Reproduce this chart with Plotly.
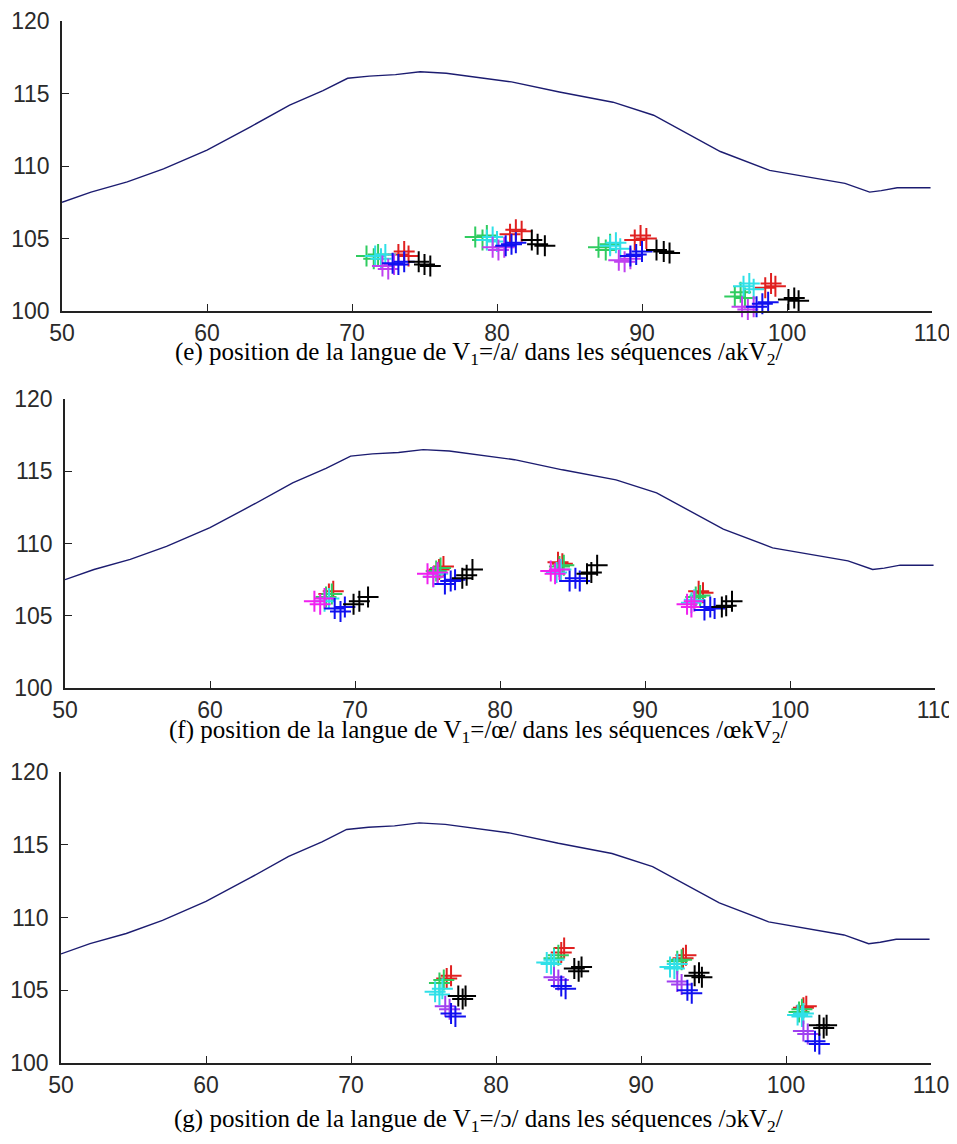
import plotly.graph_objects as go

# ---------------- data ----------------
# palate contour (same in the three panels)
CURVE_X = [50, 52, 54.5, 57, 60, 63, 65.7, 68, 69.7, 71.2, 73, 74.7, 76.5, 78.8, 81, 84.3,
           88, 90.8, 93, 95.4, 98.8, 101.8, 104, 105.7, 106.5, 107.6, 109.9]
CURVE_Y = [107.5, 108.2, 108.9, 109.8, 111.1, 112.7, 114.2, 115.2, 116.05, 116.2, 116.3, 116.5,
           116.4, 116.1, 115.8, 115.1, 114.4, 113.5, 112.3, 111.0, 109.7, 109.2, 108.8, 108.2,
           108.3, 108.5, 108.5]

X_TICKS = [50, 60, 70, 80, 90, 100, 110]
Y_TICKS = [100, 105, 110, 115, 120]

# (e) V1 = /a/
E_RED = [(73.2, 103.9), (73.6, 104.1), (73.9, 103.8), (80.9, 105.3), (81.3, 105.6), (81.7, 105.5),
         (89.5, 104.9), (89.9, 105.2), (90.3, 105.0), (98.5, 101.6), (98.9, 101.9), (99.2, 101.7)]
E_GREEN = [(71.0, 103.8), (71.5, 103.6), (71.8, 103.9), (78.5, 105.1), (79.0, 104.9), (79.3, 105.2),
           (87.0, 104.4), (87.5, 104.2), (87.8, 104.6), (96.4, 101.0), (96.8, 101.3), (97.1, 100.9)]
E_CYAN = [(71.6, 103.8), (72.0, 103.6), (72.3, 103.9), (79.3, 104.9), (79.7, 105.1), (80.0, 104.8),
          (87.8, 104.5), (88.2, 104.7), (88.5, 104.3), (97.0, 101.7), (97.4, 101.9), (97.7, 101.5)]
E_MAGENTA = [(72.1, 103.1), (72.5, 102.9), (72.9, 103.2), (79.7, 104.4), (80.1, 104.2), (80.5, 104.4),
             (88.4, 103.5), (88.8, 103.4), (89.2, 103.6), (96.9, 100.3), (97.3, 100.1), (97.7, 100.3)]
E_BLUE = [(72.8, 103.3), (73.2, 103.2), (73.6, 103.4), (80.6, 104.5), (81.0, 104.6), (81.3, 104.7),
          (89.2, 103.8), (89.6, 103.9), (90.0, 104.1), (97.9, 100.3), (98.3, 100.5), (98.7, 100.6)]
E_BLACK = [(74.6, 103.4), (75.0, 103.2), (75.4, 103.1), (82.4, 104.9), (82.8, 104.6), (83.3, 104.5),
           (91.0, 104.2), (91.5, 104.1), (91.9, 104.0), (100.1, 100.8), (100.5, 100.9), (100.8, 100.7)]

# (f) V1 = /œ/
F_RED = [(68.2, 106.5), (68.5, 106.7), (75.8, 108.2), (76.1, 108.4), (84.0, 108.7), (84.3, 108.6),
         (93.7, 106.7), (94.0, 106.6)]
F_GREEN = [(68.0, 106.3), (68.4, 106.5), (75.6, 108.1), (75.9, 108.3), (84.1, 108.4), (84.4, 108.5),
           (93.5, 106.3), (93.8, 106.4)]
F_CYAN = [(67.9, 106.0), (68.2, 106.2), (75.4, 107.7), (75.7, 107.9), (83.9, 108.0), (84.2, 108.2),
          (93.2, 105.9), (93.4, 106.1)]
F_MAGENTA = [(67.2, 106.0), (67.6, 105.8), (67.9, 106.2), (75.0, 107.9), (75.4, 107.7), (75.7, 108.0),
             (83.5, 108.1), (83.8, 107.9), (84.1, 108.2), (92.9, 105.8), (93.2, 105.6), (93.4, 106.0)]
F_BLUE = [(68.6, 105.5), (69.0, 105.3), (69.3, 105.6), (76.2, 107.2), (76.6, 107.4), (76.9, 107.5),
          (84.8, 107.4), (85.2, 107.6), (85.5, 107.4), (94.1, 105.4), (94.5, 105.6), (94.8, 105.5)]
F_BLACK = [(69.9, 105.8), (70.3, 106.0), (70.9, 106.3), (77.4, 107.6), (77.7, 107.8), (78.1, 108.2),
           (86.0, 107.9), (86.3, 108.0), (86.7, 108.5), (95.3, 105.6), (95.6, 105.7), (96.0, 106.0)]

# (g) V1 = /ɔ/
G_RED = [(76.6, 105.8), (76.9, 106.0), (84.5, 107.6), (84.7, 107.9), (92.9, 107.2), (93.1, 107.4),
         (101.2, 103.8), (101.4, 103.9)]
G_GREEN = [(76.1, 105.5), (76.4, 105.7), (84.0, 107.2), (84.3, 107.4), (92.5, 107.0), (92.8, 107.1),
           (100.9, 103.5), (101.1, 103.7)]
G_CYAN = [(75.8, 104.9), (76.1, 104.7), (76.3, 105.1), (83.5, 106.9), (83.8, 106.8), (84.0, 107.1),
          (92.0, 106.6), (92.3, 106.5), (92.5, 106.8), (100.8, 103.3), (101.1, 103.2), (101.2, 103.4)]
G_MAGENTA = [(76.5, 103.9), (76.8, 103.7), (84.0, 105.9), (84.3, 105.7), (92.5, 105.6), (92.8, 105.4),
             (101.2, 102.2), (101.5, 102.0)]
G_BLUE = [(76.9, 103.4), (77.2, 103.2), (84.5, 105.3), (84.8, 105.1), (93.2, 105.0), (93.5, 104.8),
          (102.0, 101.5), (102.3, 101.3)]
G_BLACK = [(77.4, 104.6), (77.7, 104.4), (77.9, 104.6), (85.4, 106.5), (85.7, 106.3), (85.9, 106.6),
           (93.7, 106.0), (94.0, 106.2), (94.2, 105.9), (102.3, 102.6), (102.6, 102.4), (102.8, 102.6)]

CAPTIONS = [
    "(e) position de la langue de V<sub>1</sub>=/a/ dans les séquences /akV<sub>2</sub>/",
    "(f) position de la langue de V<sub>1</sub>=/œ/ dans les séquences /œkV<sub>2</sub>/",
    "(g) position de la langue de V<sub>1</sub>=/ɔ/ dans les séquences /ɔkV<sub>2</sub>/",
]

# ---------------- styling ----------------
# the page body has an 8px default margin: the figure is drawn 16px smaller
OFF = 8
W, H = 957 - 2 * OFF, 1144 - 2 * OFF
COLORS = {"red": "#e02020", "green": "#30cc60", "cyan": "#30e0e8",
          "blue": "#1010f0", "black": "#000000"}
MAG = ["#c040f0", "#f020f0", "#a040f0"]

panels = [
    dict(series=[("red", E_RED), ("green", E_GREEN), ("cyan", E_CYAN), ("mag", E_MAGENTA),
                 ("blue", E_BLUE), ("black", E_BLACK)],
         px=(62, 932), py=(21, 311), cap_y=353),
    dict(series=[("red", F_RED), ("green", F_GREEN), ("cyan", F_CYAN), ("mag", F_MAGENTA),
                 ("blue", F_BLUE), ("black", F_BLACK)],
         px=(65, 935), py=(399, 688), cap_y=731),
    dict(series=[("red", G_RED), ("green", G_GREEN), ("cyan", G_CYAN), ("mag", G_MAGENTA),
                 ("blue", G_BLUE), ("black", G_BLACK)],
         px=(61, 931), py=(772, 1063), cap_y=1120),
]

fig = go.Figure()
annotations = []
layout = {}
for i, p in enumerate(panels):
    k = "" if i == 0 else str(i + 1)
    xa, ya = "x" + k, "y" + k
    fig.add_trace(go.Scatter(x=CURVE_X, y=CURVE_Y, mode="lines", xaxis=xa, yaxis=ya,
                             line=dict(color="#1c1c70", width=1.4), showlegend=False,
                             hoverinfo="skip"))
    for name, pts in p["series"]:
        col = MAG[i] if name == "mag" else COLORS[name]
        fig.add_trace(go.Scatter(
            x=[a for a, b in pts], y=[b for a, b in pts], mode="markers",
            xaxis=xa, yaxis=ya, cliponaxis=False, showlegend=False,
            marker=dict(symbol="cross-thin", size=15, color=col,
                        line=dict(color=col, width=2))))
    axcommon = dict(showgrid=False, zeroline=False, showline=True, linecolor="#222222",
                    linewidth=1.6, ticks="inside", ticklen=7, tickwidth=1.4,
                    tickcolor="#222222", mirror=False, automargin=False,
                    ticklabeloverflow="allow",
                    tickfont=dict(family="Liberation Sans, Arial, sans-serif", size=23,
                                  color="#2a2a2a"))
    x0, x1 = p["px"][0] - OFF, p["px"][1] - OFF
    y0, y1 = p["py"][0] - OFF, p["py"][1] - OFF
    layout["xaxis" + k] = dict(axcommon, range=[50, 110], tickvals=X_TICKS,
                               ticklabelstandoff=1,
                               domain=[x0 / W, x1 / W], anchor=ya)
    layout["yaxis" + k] = dict(axcommon, range=[100, 120], tickvals=Y_TICKS,
                               ticklabelstandoff=6,
                               domain=[1 - y1 / H, 1 - y0 / H], anchor=xa)
    annotations.append(dict(text=CAPTIONS[i], xref="paper", yref="paper",
                            x=(478 - OFF) / W, y=1 - (p["cap_y"] - OFF) / H,
                            xanchor="center", yanchor="middle", showarrow=False,
                            font=dict(family="Liberation Serif, Times New Roman, serif",
                                      size=25, color="#000000")))

fig.update_layout(width=W, height=H, autosize=False, margin=dict(l=0, r=0, t=0, b=0),
                  paper_bgcolor="white", plot_bgcolor="white", annotations=annotations,
                  **layout)
fig.write_html("out.html")
